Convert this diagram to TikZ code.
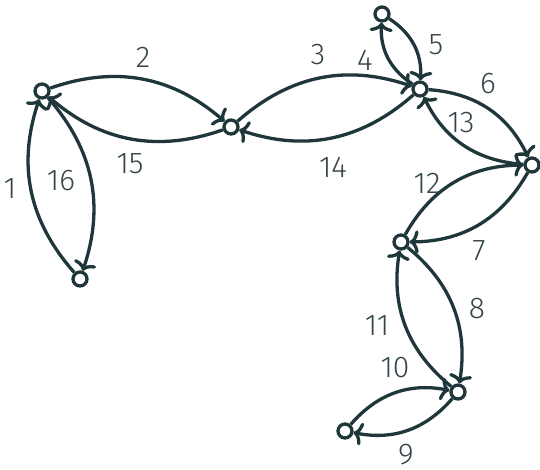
\documentclass[tikz,border=0pt]{standalone}
\usepackage{fontspec}
\setmainfont{Fira Sans Light}
\usetikzlibrary{arrows.meta}
\definecolor{edgecol}{HTML}{1F373B}
\definecolor{labcol}{HTML}{34454A}
\tikzset{
  vtx/.style={circle, draw=edgecol, line width=3.3pt, fill=white, minimum size=14pt, inner sep=0pt},
  arc/.style={draw=edgecol, line width=3.3pt, -{Computer Modern Rightarrow[length=9pt,width=23pt]}, bend left=30},
  lbl/.style={text=labcol, font=\fontsize{30}{34}\selectfont, inner sep=0pt}
}
\begin{document}
\begin{tikzpicture}[x=1pt,y=-1pt]
\useasboundingbox (0,0) rectangle (540,469);
\node[vtx] (A) at (42,91) {};
\node[vtx] (B) at (80,279) {};
\node[vtx] (C) at (231,127) {};
\node[vtx] (D) at (420,89) {};
\node[vtx] (E) at (382,14) {};
\node[vtx] (F) at (532,165) {};
\node[vtx] (G) at (401,242) {};
\node[vtx] (H) at (458,392) {};
\node[vtx] (I) at (345,431) {};
\draw[arc] (B) to (A);
\draw[arc] (A) to (C);
\draw[arc] (C) to (D);
\draw[arc] (D) to (E);
\draw[arc] (E) to (D);
\draw[arc] (D) to (F);
\draw[arc] (F) to (G);
\draw[arc] (G) to (H);
\draw[arc] (H) to (I);
\draw[arc] (I) to (H);
\draw[arc] (H) to (G);
\draw[arc] (G) to (F);
\draw[arc] (F) to (D);
\draw[arc] (D) to (C);
\draw[arc] (C) to (A);
\draw[arc] (A) to (B);
\node[lbl] (l1) at (10,189) {1};
\node[lbl] (l2) at (143,57) {2};
\node[lbl] (l3) at (318,55) {3};
\node[lbl] (l4) at (365,60) {4};
\node[lbl] (l5) at (436,45) {5};
\node[lbl] (l6) at (488,84) {6};
\node[lbl] (l7) at (479,251) {7};
\node[lbl] (l8) at (477,309) {8};
\node[lbl] (l9) at (406,455) {9};
\node[lbl] (l10) at (395,368) {10};
\node[lbl] (l11) at (377,326) {11};
\node[lbl] (l12) at (427,183) {12};
\node[lbl] (l13) at (461,123) {13};
\node[lbl] (l14) at (333,167) {14};
\node[lbl] (l15) at (130,164) {15};
\node[lbl] (l16) at (61,181) {16};
\end{tikzpicture}
\end{document}
